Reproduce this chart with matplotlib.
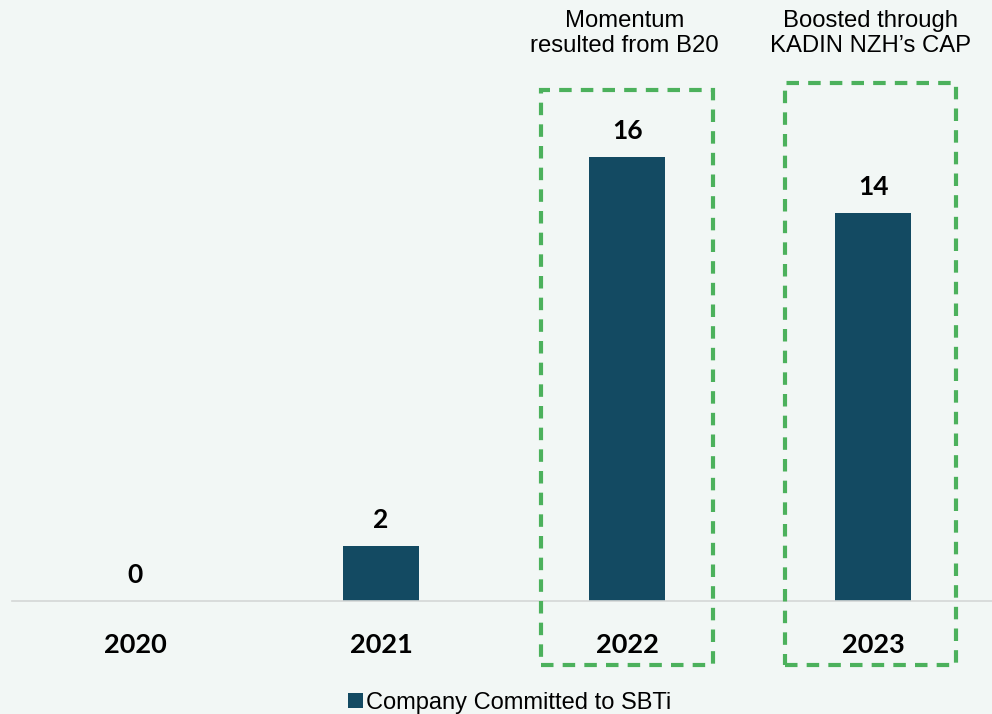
import matplotlib.pyplot as plt
from matplotlib.patches import Rectangle

# data
years = ['2020', '2021', '2022', '2023']
committed = [0, 2, 16, 14]
notes = {2: 'Momentum\nresulted from B20', 3: 'Boosted through\nKADIN NZH\u2019s CAP'}

bar_color = '#134a62'
box_color = '#4cb15c'
bg = '#f2f7f5'

fig = plt.figure(figsize=(9.92, 7.14), dpi=100, facecolor=bg)
ax = fig.add_axes([12/992, (714-601)/714, 983/992, 601/714])
ax.set_facecolor(bg)

x = range(len(years))
ax.bar(x, committed, width=0.31, color=bar_color, label='Company Committed to SBTi', zorder=2)

ax.set_xlim(-0.5, 3.495)
ax.set_ylim(0, 21.66)

# value labels
for i, v in zip(x, committed):
    ax.text(i, v + 1.0, str(v), ha='center', va='center_baseline', fontsize=19,
            fontweight='bold', family='Lato')

# year labels below baseline
for i, y in zip(x, years):
    ax.text(i, -1.5, y, ha='center', va='center_baseline', fontsize=19.5,
            fontweight='bold', family='Lato', clip_on=False)

# dashed highlight boxes + notes
boxes = {2: (1.65, 2.35, 18.41), 3: (2.642, 3.337, 18.67)}
for k, (x0, x1, top) in boxes.items():
    r = Rectangle((x0, -2.31), x1 - x0, top + 2.31, fill=False, edgecolor=box_color,
                  linestyle=(0, (3, 2.2)), linewidth=3, clip_on=False, zorder=3)
    ax.add_patch(r)
    ax.text(k - 0.01, 20.45, notes[k], ha='center', va='center', fontsize=17.2,
            family='Liberation Sans', linespacing=1.2)

for s in ['top', 'right', 'left']:
    ax.spines[s].set_visible(False)
ax.spines['bottom'].set_color('#d4d7d6')
ax.spines['bottom'].set_linewidth(1.2)
ax.set_xticks([])
ax.set_yticks([])

fig.legend(loc='center', bbox_to_anchor=(0.514, (714-703)/714), frameon=False,
           prop={'family': 'Liberation Sans', 'size': 17}, handlelength=0.6,
           handleheight=0.6, handletextpad=0.15)

fig.savefig('out.png', dpi=100, facecolor=bg)
